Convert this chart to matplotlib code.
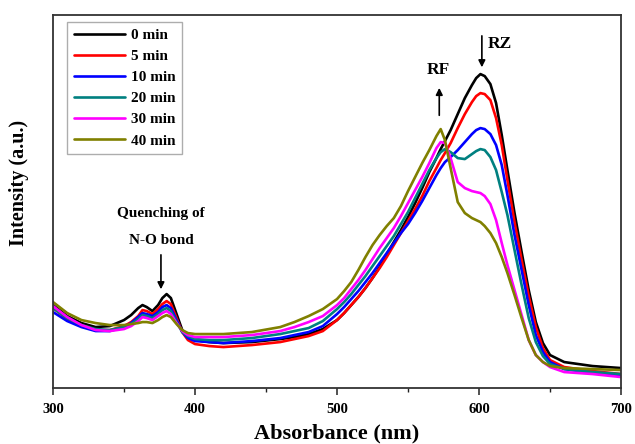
import matplotlib
matplotlib.use("Agg")
import matplotlib.pyplot as plt
from matplotlib.ticker import MultipleLocator

wavelength = [300,310,320,330,340,350,355,360,363,366,370,374,377,380,383,387,391,395,400,
              410,420,440,460,470,480,490,
              500,505,510,515,520,525,530,535,540,545,550,555,560,565,570,
              573,576,580,585,590,595,598,601,604,608,612,616,620,625,630,635,640,645,650,
              660,680,700]

min0 = [83,72,65,61,62,68,73,80,83,81,77,83,90,94,90,74,58,51,48,
        46,45,46,49,51,54,59,
        68,75,83,91,100,110,121,134,146,158,171,185,200,216,230,
        239,247,258,274,290,303,310,314,312,304,285,253,218,175,136,98,66,45,33,
        26,22,20]
min5 = [80,69,62,58,58,62,66,72,78,77,74,79,84,87,84,70,56,48,44,
        42,41,43,46,49,52,57,
        68,75,83,91,100,110,120,131,143,155,167,179,192,207,220,
        228,235,245,260,274,286,292,295,294,288,270,243,208,166,128,92,61,40,28,
        21,17,14]
min10 = [76,67,61,57,57,61,65,71,75,74,72,76,81,83,80,68,56,50,47,
         46,45,47,50,53,56,62,
         74,81,89,97,106,115,125,135,145,155,164,175,187,200,213,
         220,226,231,238,246,254,258,260,259,254,243,223,193,153,118,83,53,36,26,
         19,15,12]
min20 = [80,70,63,59,58,61,64,69,73,72,70,74,78,80,77,66,56,52,49,
         48,48,50,54,57,60,67,
         79,86,94,103,112,122,132,142,152,164,176,190,204,218,230,
         236,239,236,230,229,234,237,239,238,231,218,196,173,138,103,70,46,32,24,
         19,16,14]
min30 = [82,71,63,58,57,59,62,67,71,70,68,72,75,77,74,65,57,53,51,
         51,51,53,57,61,66,72,
         83,90,99,108,118,129,140,150,160,172,185,198,211,225,240,
         246,245,230,206,200,197,196,195,192,184,168,145,123,98,73,48,33,26,21,
         16,14,11]
min40 = [86,75,68,65,63,63,64,65,66,66,65,68,71,73,71,64,58,55,54,
         54,54,56,61,66,72,79,
         89,97,106,118,131,143,153,162,170,182,197,211,225,238,252,
         259,248,220,186,175,170,168,166,162,155,145,131,115,93,70,48,33,26,22,
         20,19,18]

series = [min0, min5, min10, min20, min30, min40]
labels = ["0 min", "5 min", "10 min", "20 min", "30 min", "40 min"]
colors = ["#000000", "#ff0000", "#0000ff", "#008080", "#ff00ff", "#808000"]
xticks = [300, 400, 500, 600, 700]

plt.rcParams['font.family'] = ['Liberation Serif', 'DejaVu Serif']
plt.rcParams['font.weight'] = 'bold'

fig = plt.figure(figsize=(6.35, 4.44), dpi=100)
ax = fig.add_axes([0.0835, 0.126, 0.8945, 0.840])

for y, lab, c in zip(series, labels, colors):
    ax.plot(wavelength, y, color=c, lw=1.9, label=lab,
            solid_joinstyle='round', solid_capstyle='round')

ax.set_xlim(300, 700)
ax.set_ylim(0, 373)
ax.set_xticks(xticks)
ax.set_xticklabels([str(t) for t in xticks], fontsize=10.5, fontweight='bold')
ax.xaxis.set_minor_locator(MultipleLocator(50))
ax.tick_params(axis='x', which='major', direction='out', length=5, width=1.1, pad=6, color='#222222')
ax.tick_params(axis='x', which='minor', direction='out', length=3, width=1.0, color='#222222')
ax.set_yticks([])
for sp in ax.spines.values():
    sp.set_linewidth(1.3)
    sp.set_color('#333333')

ax.set_xlabel("Absorbance (nm)", fontsize=16, fontweight='bold', labelpad=5)
ax.set_ylabel("Intensity (a.u.)", fontsize=14.5, fontweight='bold')
ax.yaxis.set_label_coords(-0.042, 0.55)

leg = ax.legend(loc='upper left', bbox_to_anchor=(0.024, 0.982),
                frameon=True, fancybox=False, edgecolor='#999999', handlelength=3.4,
                handletextpad=0.35, labelspacing=0.48, borderpad=0.45, borderaxespad=0.0,
                prop={'weight': 'bold', 'size': 11})
leg.get_frame().set_linewidth(1.0)

arrow = dict(arrowstyle='-|>', color='black', lw=1.2, mutation_scale=10)
ax.annotate("", xy=(602, 318), xytext=(602, 355), arrowprops=arrow)
ax.text(606, 344, "RZ", fontsize=12.5, fontweight='bold', ha='left', va='center')
ax.annotate("", xy=(572, 303), xytext=(572, 270), arrowprops=arrow)
ax.text(571, 318, "RF", fontsize=12.5, fontweight='bold', ha='center', va='center')
ax.text(376, 175, "Quenching of", fontsize=11, fontweight='bold', ha='center', va='center')
ax.text(376, 148, "N-O bond", fontsize=11, fontweight='bold', ha='center', va='center')
ax.annotate("", xy=(376, 96), xytext=(376, 136), arrowprops=arrow)

fig.savefig("out.png", dpi=100)
